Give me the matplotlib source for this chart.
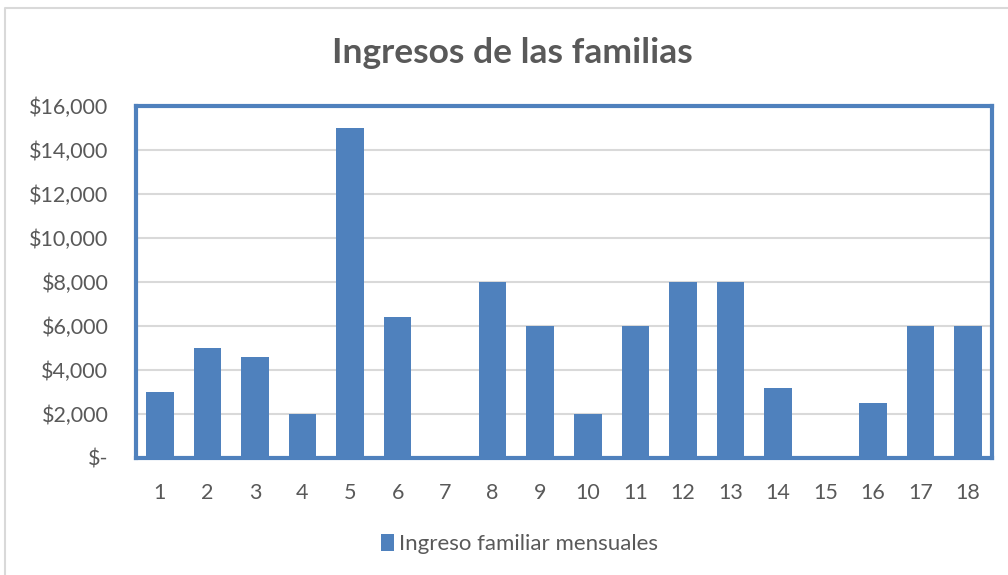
import numpy as np
import matplotlib.pyplot as plt
from matplotlib.lines import Line2D
from matplotlib.ticker import FuncFormatter

plt.rcParams['font.family'] = ['Lato', 'DejaVu Sans']

familias = [str(i) for i in range(1, 19)]
ingresos = [3000, 5000, 4600, 2000, 15000, 6400, 0, 8000, 6000,
            2000, 6000, 8000, 8000, 3200, 0, 2500, 6000, 6000]
serie = "Ingreso familiar mensuales"
titulo = "Ingresos de las familias"

azul = '#4F81BD'
gris = '#595959'


def pesos(v, pos):
    if v == 0:
        return '$-'
    return '${:,.0f}'.format(v)


fig = plt.figure(figsize=(10.08, 5.75), dpi=100)
ax = fig.add_axes([0.135, 0.2035, 0.849, 0.6122])

x = np.arange(len(familias))
ax.bar(x, ingresos, width=0.58, color=azul, label=serie, zorder=3)

ax.set_xlim(-0.5, len(familias) - 0.5)
ax.set_ylim(0, 16000)
ax.set_yticks(np.arange(0, 16001, 2000))
ax.yaxis.set_major_formatter(FuncFormatter(pesos))
ax.set_xticks(x)
ax.set_xticklabels(familias)
ax.tick_params(axis='both', length=0, labelsize=15.5, labelcolor=gris)
ax.tick_params(axis='x', pad=18)
ax.tick_params(axis='y', pad=20)
ax.grid(axis='y', color='#D9D9D9', linewidth=1.5, zorder=0)

for s in ax.spines.values():
    s.set_color(azul)
    s.set_linewidth(3)

fig.text(0.508, 0.908, titulo, ha='center', va='center',
         fontsize=25.5, fontweight='bold', color=gris)

fig.legend(loc='center', bbox_to_anchor=(0.515, 0.054), frameon=False,
           fontsize=16, labelcolor=gris, handlelength=0.6, handleheight=0.8,
           handletextpad=0.2)

# borde claro del area del grafico
fig.add_artist(Line2D([0.005, 0.005, 1.0], [0.0, 0.986, 0.986],
                      transform=fig.transFigure, color='#D9D9D9', linewidth=1.5))

fig.savefig('out.png', dpi=100)
